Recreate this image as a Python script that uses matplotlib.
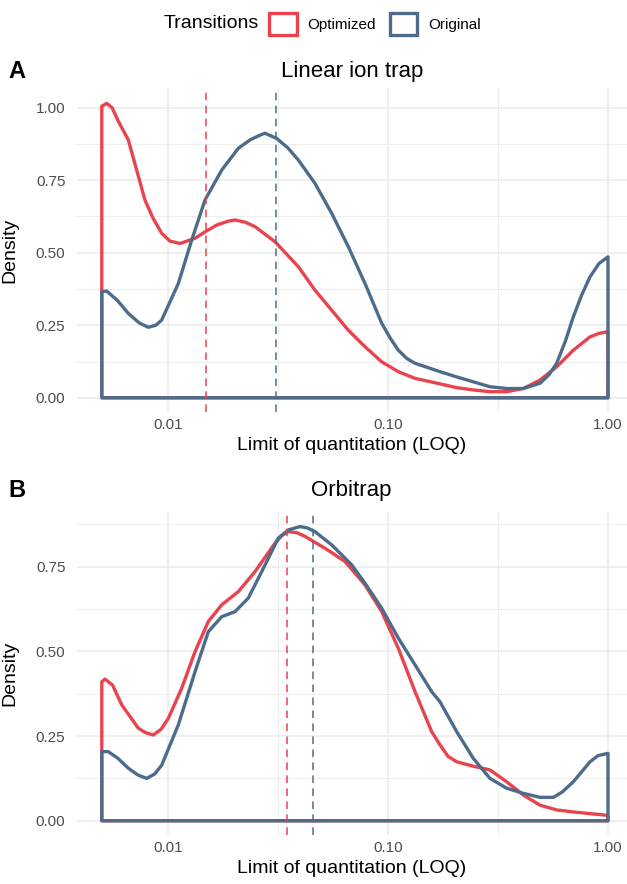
import numpy as np
import matplotlib.pyplot as plt
from matplotlib.patches import Patch

plt.rcParams['font.family'] = ['Liberation Sans', 'DejaVu Sans']

W, H = 627, 884
red = '#E8434E'
blue = '#4D6C8B'
grid_col = '#EBEBEB'
tick_col = '#4D4D4D'

groups = ['Optimized', 'Original']

# A: linear ion trap, density of LOQ
lit_opt_x = [0.005, 0.00526, 0.00557, 0.00593, 0.0066, 0.00786, 0.00855, 0.00936, 0.01021,
             0.01134, 0.01327, 0.01473, 0.0166, 0.0188, 0.02016, 0.0225, 0.02485, 0.03064,
             0.03911, 0.04658, 0.05546, 0.066, 0.07861, 0.09363, 0.1114, 0.1327, 0.1723,
             0.2052, 0.2442, 0.2908, 0.3463, 0.4121, 0.4908, 0.5845, 0.6956, 0.8284,
             0.91, 1.0]
lit_opt_y = [1.005, 1.015, 1.0, 0.955, 0.889, 0.681, 0.619, 0.567, 0.54,
             0.532, 0.55, 0.572, 0.595, 0.609, 0.613, 0.605, 0.59, 0.538,
             0.452, 0.371, 0.302, 0.233, 0.176, 0.124, 0.09, 0.067, 0.048,
             0.035, 0.027, 0.021, 0.021, 0.032, 0.061, 0.107, 0.164, 0.21,
             0.222, 0.228]
lit_ori_x = [0.005, 0.00526, 0.0059, 0.0066, 0.0074, 0.00814, 0.0088, 0.00936, 0.01114,
             0.01282, 0.01473, 0.01754, 0.02087, 0.0237, 0.02666, 0.0276, 0.03119, 0.035,
             0.03911, 0.04658, 0.05546, 0.066, 0.07861, 0.09363, 0.1025, 0.1114, 0.122,
             0.1327, 0.1723, 0.2052, 0.2442, 0.2908, 0.3463, 0.4121, 0.4908, 0.54,
             0.5845, 0.64, 0.6956, 0.76, 0.8284, 0.91, 1.0]
lit_ori_y = [0.366, 0.368, 0.335, 0.291, 0.258, 0.243, 0.25, 0.268, 0.394,
             0.544, 0.682, 0.785, 0.86, 0.89, 0.908, 0.912, 0.894, 0.862,
             0.82, 0.739, 0.636, 0.521, 0.394, 0.257, 0.205, 0.164, 0.135,
             0.119, 0.09, 0.072, 0.055, 0.038, 0.032, 0.032, 0.05, 0.08,
             0.119, 0.195, 0.279, 0.355, 0.417, 0.463, 0.486]
lit_median = [0.0149, 0.0310]

# B: orbitrap
orb_opt_x = [0.005, 0.00517, 0.0056, 0.00616, 0.00733, 0.0079, 0.00857, 0.0093, 0.01003,
             0.01154, 0.01327, 0.01525, 0.01754, 0.02087, 0.02485, 0.03064, 0.033, 0.03522,
             0.0385, 0.04195, 0.05172, 0.06374, 0.07861, 0.09363, 0.1114, 0.1327, 0.1579,
             0.1723, 0.1875, 0.2052, 0.2442, 0.2908, 0.3463, 0.4121, 0.4908, 0.5845,
             0.6956, 0.8284, 1.0]
orb_opt_y = [0.41, 0.418, 0.4, 0.342, 0.273, 0.26, 0.253, 0.27, 0.302,
             0.391, 0.499, 0.588, 0.637, 0.676, 0.735, 0.819, 0.842, 0.853,
             0.85, 0.839, 0.804, 0.765, 0.696, 0.617, 0.509, 0.381, 0.263,
             0.224, 0.19, 0.174, 0.161, 0.15, 0.115, 0.076, 0.046, 0.032,
             0.026, 0.021, 0.016]
orb_ori_x = [0.005, 0.00535, 0.0059, 0.0066, 0.0073, 0.008, 0.0087, 0.00936, 0.01114,
             0.01327, 0.01525, 0.01754, 0.02016, 0.02317, 0.02666, 0.03064, 0.03172, 0.03522,
             0.03981, 0.043, 0.04658, 0.05546, 0.06839, 0.07861, 0.09363, 0.1114, 0.1327,
             0.1579, 0.1723, 0.2052, 0.2442, 0.2908, 0.3463, 0.4121, 0.4908, 0.5642,
             0.62, 0.6956, 0.8284, 0.9, 1.0]
orb_ori_y = [0.204, 0.204, 0.185, 0.155, 0.135, 0.125, 0.138, 0.164, 0.283,
             0.44, 0.558, 0.602, 0.617, 0.657, 0.735, 0.814, 0.834, 0.858,
             0.868, 0.864, 0.853, 0.814, 0.755, 0.701, 0.627, 0.539, 0.46,
             0.381, 0.351, 0.263, 0.184, 0.125, 0.096, 0.081, 0.069, 0.069,
             0.085, 0.115, 0.174, 0.192, 0.199]
orb_median = [0.0348, 0.0456]

x_ticks = [0.01, 0.1, 1.0]
x_ticklabels = ['0.01', '0.10', '1.00']
x_minor = [10 ** -1.5, 10 ** -0.5]
y_ticks = [0, 0.25, 0.5, 0.75, 1.0]
y_ticklabels = ['0.00', '0.25', '0.50', '0.75', '1.00']


def px_box(left, top, right, bottom):
    return [left / W, 1 - bottom / H, (right - left) / W, (bottom - top) / H]


fig = plt.figure(figsize=(W / 100, H / 100), dpi=100)


def panel(box, curves, medians, ylim, title, tag, title_y, tag_y):
    ax = fig.add_axes(px_box(*box))
    ax.set_xscale('log')
    for (xs, ys), col in zip(curves, [red, blue]):
        px = [xs[0]] + list(xs) + [xs[-1]]
        py = [0] + list(ys) + [0]
        poly = ax.fill(px, py, facecolor='none', edgecolor=col, lw=2.4, zorder=3)[0]
        poly.set_joinstyle('round')
    for m, col in zip(medians, [red, blue]):
        ax.axvline(m, color=col, lw=1.1, dashes=(5, 3.5), zorder=4)
    ax.set_xticks(x_ticks)
    ax.set_xticklabels(x_ticklabels)
    ax.set_xticks(x_minor, minor=True)
    ax.set_xticklabels([], minor=True)
    yt = [t for t in y_ticks if t <= ylim[1]]
    ax.set_yticks(yt)
    ax.set_yticklabels(y_ticklabels[:len(yt)])
    ax.set_yticks([t + 0.125 for t in y_ticks if t + 0.125 <= ylim[1]], minor=True)
    ax.set_xlim(10 ** -2.416, 10 ** 0.0864)
    ax.set_ylim(*ylim)
    ax.grid(which='major', color=grid_col, lw=1.1)
    ax.grid(which='minor', color=grid_col, lw=0.6)
    ax.set_axisbelow(True)
    for s in ax.spines.values():
        s.set_visible(False)
    ax.tick_params(which='both', length=0, labelsize=11, labelcolor=tick_col)
    ax.tick_params(axis='y', pad=8)
    ax.tick_params(axis='x', pad=4)
    ax.set_xlabel('Limit of quantitation (LOQ)', fontsize=14)
    ax.set_ylabel('Density', fontsize=14)
    ax.yaxis.set_label_coords((18 - box[0]) / (box[2] - box[0]), 0.5)
    ax.set_title(title, fontsize=16, pad=0, y=(box[3] - title_y) / (box[3] - box[1]), va='baseline')
    fig.text(8 / W, 1 - tag_y / H, tag, fontsize=17, fontweight='bold', va='baseline')
    return ax


axA = panel((76.5, 88, 627, 412), [(lit_opt_x, lit_opt_y), (lit_ori_x, lit_ori_y)],
            lit_median, (-0.049, 1.068), 'Linear ion trap', 'A', 77, 78)
axB = panel((76.5, 512, 627, 835), [(orb_opt_x, orb_opt_y), (orb_ori_x, orb_ori_y)],
            orb_median, (-0.042, 0.911), 'Orbitrap', 'B', 496, 497)

handles = [Patch(facecolor='white', edgecolor=c, lw=2.4) for c in [red, blue]]
fig.legend(handles, groups, loc='center', bbox_to_anchor=(375 / W, 1 - 24 / H), ncol=2,
           frameon=False, fontsize=11, handlelength=1.8, handleheight=1.9,
           handletextpad=0.7, columnspacing=0.9, borderpad=0)
fig.text(259 / W, 1 - 24 / H, 'Transitions', fontsize=14, ha='right', va='center')

fig.savefig('out.png', dpi=100)
